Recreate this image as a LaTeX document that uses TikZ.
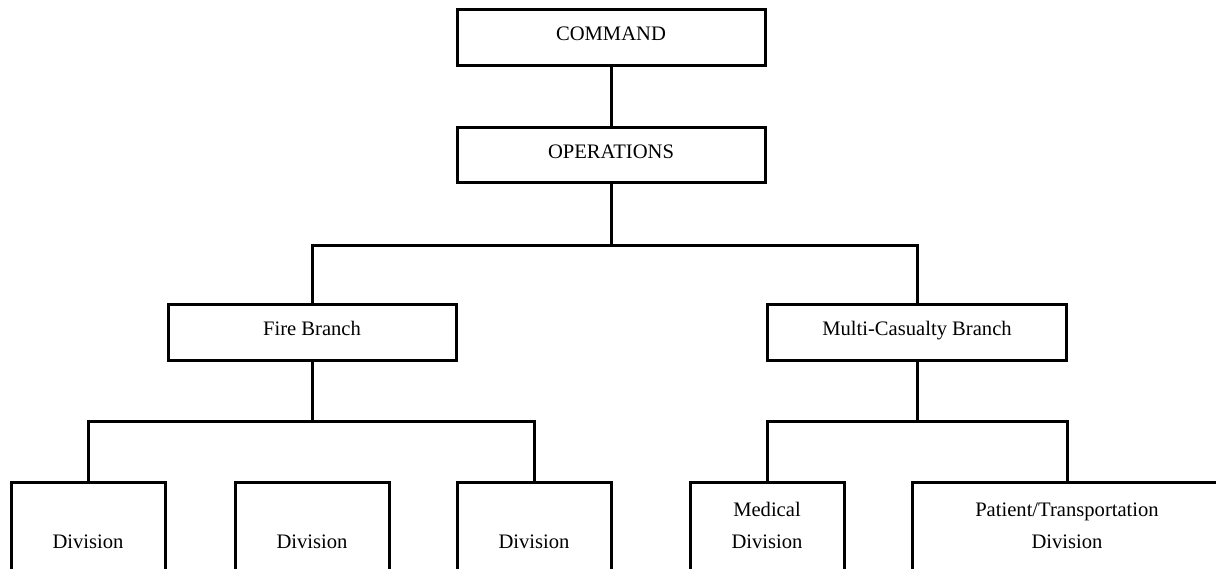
\documentclass[tikz,border=0pt]{standalone}
\usepackage{fontspec}
\setmainfont{Liberation Serif}
\begin{document}
\begin{tikzpicture}[x=1pt,y=-1pt,line width=3pt,every node/.style={inner sep=0pt,font=\fontsize{20.6}{32}\selectfont}]
\tikzstyle{box}=[draw,rectangle,minimum height=56pt,text height=0.7em,text depth=0.25em]
\tikzstyle{divbox}=[draw,rectangle,anchor=north,minimum width=154pt,text height=65.7pt,text depth=150pt,align=center]
\useasboundingbox (0,0) rectangle (1216,569);

\node[box,minimum width=308pt](cmd) at (611,38){COMMAND};
\node[box,minimum width=308pt,minimum height=55pt,text depth=0.1em](ops) at (611,155.5){OPERATIONS};

\node[box,minimum width=288pt](fire) at (312,333){Fire Branch};
\node[box,minimum width=299pt](mcb) at (917,333){Multi-Casualty Branch};

\node[divbox](d1) at (88,481){Division};
\node[divbox](d2) at (312,481){Division};
\node[divbox](d3) at (534,481){Division};
\node[divbox](med) at (767,481){Medical\\Division};
\node[divbox,minimum width=310pt](pat) at (1067,481){Patient/Transportation\\Division};

% bus points
\coordinate (b0) at (611,246);
\coordinate (b1) at (312,421.7);
\coordinate (b2) at (917,421.7);

\draw (cmd) -- (ops);
\draw (ops) -- (b0);
\draw (fire.north) |- (b0) -| (mcb.north);

\draw (fire) -- (b1);
\draw (d1.north) |- (b1) -| (d3.north);

\draw (mcb) -- (b2);
\draw (med.north) |- (b2) -| (pat.north);
\end{tikzpicture}
\end{document}
